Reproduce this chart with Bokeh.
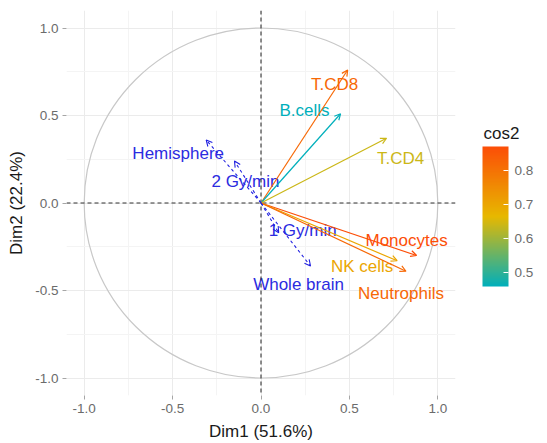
from bokeh.plotting import figure
from bokeh.models import (ColumnDataSource, Arrow, OpenHead, Span, ColorBar, Label,
                          LinearColorMapper, FixedTicker, NumeralTickFormatter)
from bokeh.transform import transform
from bokeh.core.properties import value
from bokeh.embed import file_html
from bokeh.resources import INLINE

# Active variables: coordinates on Dim1 / Dim2 and quality of representation
active_names = ["T.CD8", "B.cells", "T.CD4", "Monocytes", "NK cells", "Neutrophils"]
active_dim1 = [0.49, 0.45, 0.71, 0.88, 0.77, 0.82]
active_dim2 = [0.76, 0.51, 0.37, -0.30, -0.33, -0.39]
active_cos2 = [0.82, 0.46, 0.64, 0.87, 0.70, 0.82]

# Supplementary quantitative variables
sup_names = ["Hemisphere", "2 Gy/min", "1 Gy/min", "Whole brain"]
sup_dim1 = [-0.31, -0.15, 0.10, 0.28]
sup_dim2 = [0.36, 0.24, -0.17, -0.36]

axis_ticks = [-1.0, -0.5, 0.0, 0.5, 1.0]
minor_ticks = [-0.75, -0.25, 0.25, 0.75]
cos2_ticks = [0.5, 0.6, 0.7, 0.8]

# label nudges in screen pixels (dx right, dy down)
active_nudge = [(-13, 14), (-36, -3), (14, 20), (-10, -15), (-35, 6), (-5, 22)]
sup_nudge = [(-28, 13), (11, 20), (24, -2), (-12, 18)]

FONT = "Liberation Sans"
FRAME_W, FRAME_H = 389, 386


def gradient(stops, n=256):
    def rgb(h):
        h = h.lstrip("#")
        return [int(h[i:i + 2], 16) for i in (0, 2, 4)]
    cols = [rgb(s) for s in stops]
    out = []
    for k in range(n):
        t = k / (n - 1) * (len(cols) - 1)
        i = min(int(t), len(cols) - 2)
        f = t - i
        c = [round(cols[i][j] + (cols[i + 1][j] - cols[i][j]) * f) for j in range(3)]
        out.append("#%02x%02x%02x" % tuple(c))
    return out


palette = gradient(["#00AFBB", "#E7B800", "#FC4E07"])
mapper = LinearColorMapper(palette=palette, low=min(active_cos2), high=max(active_cos2))

p = figure(width=547, height=443, x_range=(-1.1, 1.1), y_range=(-1.1, 1.1),
           output_backend="svg", toolbar_location=None,
           min_border_left=66, min_border_right=92, min_border_top=10, min_border_bottom=47)
p.outline_line_color = None
p.background_fill_color = "white"

ticker = FixedTicker(ticks=axis_ticks, minor_ticks=minor_ticks)
for ax in (p.xaxis[0], p.yaxis[0]):
    ax.ticker = ticker
    ax.formatter = NumeralTickFormatter(format="0.0")
    ax.axis_line_color = None
    ax.major_tick_line_color = "#A6A6A6"
    ax.major_tick_out = 4
    ax.major_tick_in = 0
    ax.minor_tick_line_color = None
    ax.major_label_text_font = FONT
    ax.major_label_text_font_size = "13.5px"
    ax.major_label_text_color = "#6B6B6B"
    ax.major_label_standoff = 4
    ax.axis_label_text_font = FONT
    ax.axis_label_text_font_size = "17px"
    ax.axis_label_text_font_style = "normal"
    ax.axis_label_text_color = "#1A1A1A"
    ax.axis_label_standoff = 6
p.xaxis.axis_label = "Dim1 (51.6%)"
p.yaxis.axis_label = "Dim2 (22.4%)"

for g in (p.xgrid[0], p.ygrid[0]):
    g.ticker = ticker
    g.grid_line_color = "#EBEBEB"
    g.grid_line_width = 1
    g.minor_grid_line_color = "#F4F4F4"
    g.minor_grid_line_width = 1

# correlation circle
p.ellipse(x=0, y=0, width=2, height=2, fill_color=None, line_color="#C8C8C8", line_width=1.2)

# reference lines through the origin
for dim in ("width", "height"):
    p.add_layout(Span(location=0, dimension=dim, line_color="#333333",
                      line_dash="4 3", line_width=1.1))

# active variables, coloured by cos2
act = ColumnDataSource(dict(
    x0=[0.0] * len(active_names), y0=[0.0] * len(active_names),
    x=active_dim1, y=active_dim2, cos2=active_cos2, name=active_names,
    dx=[n[0] for n in active_nudge], dy=[n[1] for n in active_nudge]))
col = transform("cos2", mapper)
p.add_layout(Arrow(source=act, x_start="x0", y_start="y0", x_end="x", y_end="y",
                   line_color=col, line_width=1.2,
                   end=OpenHead(size=6, line_color=col, line_width=1.2)))
p.text(x="x", y="y", text="name", source=act, x_offset="dx", y_offset="dy",
       text_color=col, text_font=value(FONT), text_font_size="17px",
       text_align="center", text_baseline="middle")

# supplementary variables, dashed blue
sup = ColumnDataSource(dict(
    x0=[0.0] * len(sup_names), y0=[0.0] * len(sup_names),
    x=sup_dim1, y=sup_dim2, name=sup_names,
    dx=[n[0] for n in sup_nudge], dy=[n[1] for n in sup_nudge]))
p.add_layout(Arrow(source=sup, x_start="x0", y_start="y0", x_end="x", y_end="y",
                   line_color="#2020E0", line_width=1.1, line_dash="3 3",
                   end=OpenHead(size=6, line_color="#2020E0", line_width=1.1)))
p.text(x="x", y="y", text="name", source=sup, x_offset="dx", y_offset="dy",
       text_color="#2B2BE0", text_font=value(FONT), text_font_size="17px",
       text_align="center", text_baseline="middle")

# colour bar sits just right of the plotting frame
cbar = ColorBar(color_mapper=mapper, ticker=FixedTicker(ticks=cos2_ticks),
                formatter=NumeralTickFormatter(format="0.0"),
                width=26, height=140, label_standoff=6,
                major_label_text_font=FONT, major_label_text_font_size="13.5px",
                major_label_text_color="#6B6B6B",
                major_tick_line_color="white", major_tick_in=5, major_tick_out=0,
                bar_line_color=None, border_line_color=None,
                background_fill_color=None, padding=0, margin=0,
                location=(FRAME_W + 27, 109))
p.add_layout(cbar, "center")

# legend title above the bar, in the right-hand panel
p.add_layout(Label(x=28, y=FRAME_H - 124, x_units="screen", y_units="screen",
                   text="cos2", text_font=FONT, text_font_size="17px",
                   text_color="#1A1A1A", text_baseline="middle", text_align="left"),
             "right")

open("out.html", "w").write(file_html(p, INLINE))
